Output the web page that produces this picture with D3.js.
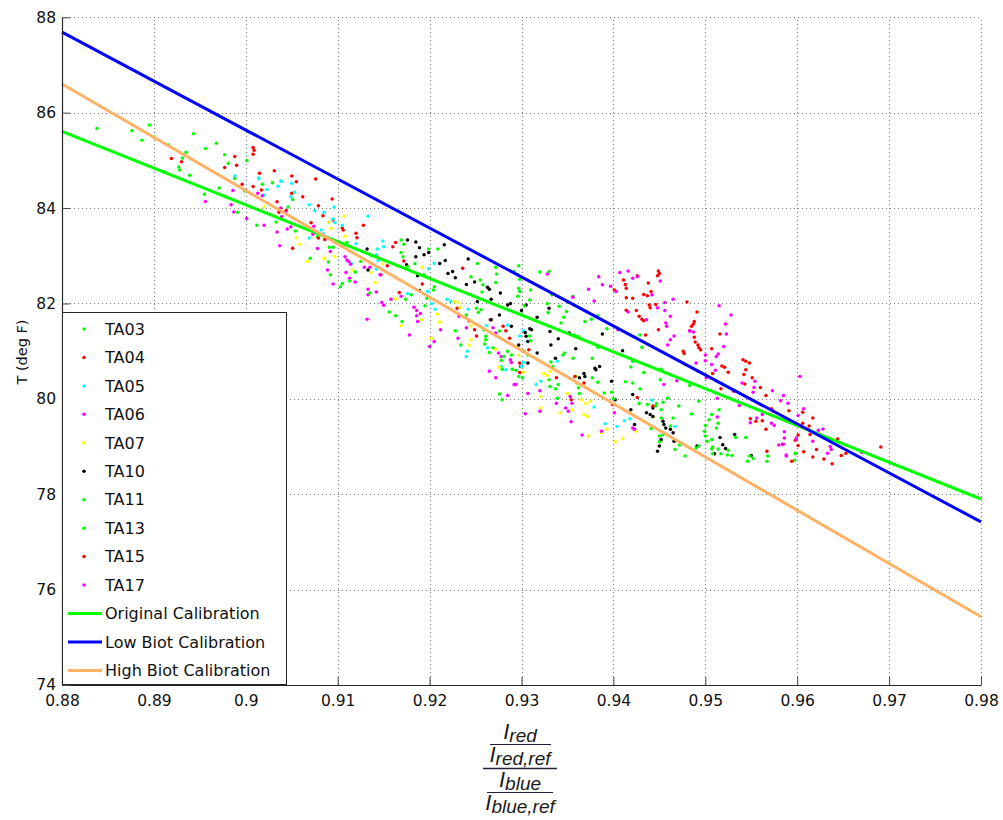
<!DOCTYPE html>
<html>
<head>
<meta charset="utf-8">
<script src="https://cdn.jsdelivr.net/npm/d3@7"></script>
<style>
html,body{margin:0;padding:0;background:#fff;}
svg{display:block;}
</style>
</head>
<body>
<svg id="chart" width="1003" height="820"></svg>
<script>
// ---------- DATA ----------
const xTicks = [0.88,0.89,0.9,0.91,0.92,0.93,0.94,0.95,0.96,0.97,0.98];
const xTickLabels = ["0.88","0.89","0.9","0.91","0.92","0.93","0.94","0.95","0.96","0.97","0.98"];
const yTicks = [74,76,78,80,82,84,86,88];
const yTickLabels = ["74","76","78","80","82","84","86","88"];

const seriesNames = ["TA03","TA04","TA05","TA06","TA07","TA10","TA11","TA13","TA15","TA17"];
const seriesColors = ["#00ff00","#ff0000","#00ffff","#ff00ff","#ffff00","#000000","#00ff00","#00ff00","#ff0000","#ff00ff"];

const TA03 = [[0.8838,85.67],[0.8876,85.62],[0.8895,85.74],[0.8887,85.42],[0.8900,85.49],[0.8916,85.32],[0.8943,85.56],[0.8935,85.17],[0.8931,85.05],[0.8927,84.86],[0.8928,84.80],[0.8939,84.69],[0.8956,85.25],[0.8968,85.36],[0.8977,85.12],[0.8981,84.94],[0.8988,84.62],[0.9001,85.00],[0.8971,84.42],[0.8977,84.25],[0.8955,84.29],[0.8911,84.76],[0.8991,83.91],[0.9012,83.64],[0.8999,84.36],[0.9029,84.53],[0.9018,84.50],[0.9051,84.18],[0.9046,84.02],[0.9033,83.71],[0.9054,83.52],[0.9078,83.40],[0.9070,82.95],[0.9091,83.18],[0.9095,83.18],[0.9090,82.87],[0.9092,82.60]];
const TA04 = [[0.8919,85.04],[0.8930,84.97],[0.8988,85.08],[0.8990,84.90],[0.8977,84.85],[0.9008,85.27],[0.9009,85.21],[0.9008,85.13],[0.8996,84.50],[0.9008,84.45],[0.9031,84.78],[0.9015,84.73],[0.9050,84.67],[0.9055,84.55],[0.9076,84.61],[0.9050,84.31],[0.9062,84.24],[0.9094,84.19],[0.9034,84.13],[0.9036,83.91],[0.9044,83.95],[0.9079,84.05],[0.9084,83.84],[0.9071,83.69],[0.9079,83.37],[0.9086,83.34],[0.9051,83.16],[0.9017,84.38],[0.9095,83.75],[0.9128,83.64],[0.9105,83.58],[0.9106,83.54],[0.9120,83.47],[0.9121,83.38],[0.9143,82.98],[0.9147,82.60],[0.9154,82.79],[0.9167,82.23],[0.9163,83.28],[0.9160,83.19],[0.9172,82.89],[0.9192,82.41],[0.9236,82.74],[0.9230,81.90],[0.9243,81.64],[0.9249,81.45],[0.9251,81.32],[0.9266,81.66],[0.9280,81.52],[0.9283,81.43],[0.9287,81.27],[0.9298,80.75],[0.9299,80.68],[0.9298,80.55]];
const TA05 = [[0.8988,84.68],[0.9014,84.63],[0.9039,84.56],[0.9050,84.52],[0.9014,84.62],[0.9053,84.33],[0.9049,84.24],[0.9069,84.07],[0.9075,83.95],[0.9085,83.91],[0.9096,84.02],[0.9082,83.54],[0.9084,83.46],[0.9095,83.77],[0.9097,83.70],[0.9105,83.64],[0.9133,83.83],[0.9120,83.25],[0.9115,82.84],[0.9142,83.02],[0.9143,83.14],[0.9149,83.31],[0.9150,83.19],[0.9144,82.90],[0.9142,82.72],[0.9176,82.21],[0.9198,82.25],[0.9202,82.00],[0.9206,81.88],[0.9199,82.73],[0.9205,82.84],[0.9069,83.37],[0.9038,84.57],[0.9035,84.46],[0.9023,84.39],[0.9020,84.27],[0.9219,82.09],[0.9223,82.04],[0.9242,81.88],[0.9262,81.54],[0.9285,81.55],[0.9263,81.07],[0.9241,81.00],[0.9240,80.89],[0.9298,81.32],[0.9302,81.43],[0.9306,81.21],[0.9278,80.68],[0.9283,80.61],[0.9300,80.68],[0.9302,80.76],[0.9316,80.30],[0.9321,80.37],[0.9339,80.79],[0.9379,79.83],[0.9391,79.48],[0.9404,79.42],[0.9442,79.97],[0.9467,79.42],[0.9412,79.54],[0.9418,79.58]];
const TA06 = [[0.8956,84.14],[0.8986,84.37],[0.8984,84.07],[0.8987,83.92],[0.9001,83.78],[0.9013,84.31],[0.9018,84.26],[0.9038,84.00],[0.9043,83.91],[0.9039,83.82],[0.9020,83.64],[0.9034,83.50],[0.9045,83.56],[0.9049,83.61],[0.9073,83.45],[0.9037,83.21],[0.9092,83.09],[0.9074,83.62],[0.9108,82.98],[0.9110,82.91],[0.9112,82.88],[0.9114,82.82],[0.9109,82.65],[0.9113,82.53],[0.9119,82.45],[0.9095,82.41],[0.9129,82.76],[0.9135,82.76],[0.9146,82.60],[0.9133,82.30],[0.9133,82.18],[0.9142,82.24],[0.9132,81.67],[0.9148,82.02],[0.9150,81.96],[0.9158,82.09],[0.9169,82.15],[0.9178,81.34],[0.9183,81.92],[0.9186,81.85],[0.9186,81.74],[0.9190,81.79],[0.9187,81.62],[0.9205,81.20],[0.9200,81.10],[0.9212,81.45],[0.9089,82.70],[0.9078,83.15],[0.9232,81.73],[0.9240,81.49],[0.9231,81.27],[0.9269,81.49],[0.9272,81.38],[0.9275,80.96],[0.9278,80.89],[0.9288,80.82],[0.9289,80.76],[0.9265,80.58],[0.9272,80.44],[0.9292,80.30],[0.9294,80.30],[0.9285,80.07]];
const TA07 = [[0.9020,84.03],[0.9055,83.38],[0.9059,83.24],[0.9090,83.71],[0.9093,83.57],[0.9085,82.95],[0.9107,83.83],[0.9108,83.41],[0.9104,83.21],[0.9116,82.70],[0.9136,82.65],[0.9141,82.44],[0.9149,82.83],[0.9163,82.10],[0.9169,81.53],[0.9191,81.66],[0.9208,81.78],[0.9202,81.27],[0.9211,81.61],[0.9192,82.76],[0.9067,82.88],[0.9086,82.94],[0.9097,82.98],[0.9227,82.04],[0.9231,82.02],[0.9233,81.92],[0.9245,81.53],[0.9245,81.24],[0.9243,81.13],[0.9272,81.04],[0.9276,80.66],[0.9297,80.92],[0.9302,80.56],[0.9324,80.53],[0.9328,80.49],[0.9331,80.58],[0.9321,80.05],[0.9350,80.11],[0.9375,79.95],[0.9365,79.98],[0.9370,79.90],[0.9355,79.77],[0.9342,79.71],[0.9321,79.81],[0.9368,79.67],[0.9372,79.63],[0.9373,79.22],[0.9393,79.36],[0.9387,79.29],[0.9402,79.10],[0.9443,79.62],[0.9425,79.32],[0.9410,79.17]];
const TA10 = [[0.9132,83.14],[0.9133,82.70],[0.9175,82.81],[0.9187,82.58],[0.9189,82.27],[0.9185,83.29],[0.9189,83.17],[0.9185,82.98],[0.9194,83.02],[0.9199,83.07],[0.9211,82.84],[0.9176,83.33],[0.9228,82.54],[0.9263,82.34],[0.9285,81.97],[0.9305,81.97],[0.9267,81.66],[0.9276,81.76],[0.9309,81.47],[0.9311,81.45],[0.9305,81.31],[0.9307,81.20],[0.9304,81.39],[0.9317,80.96],[0.9307,80.75],[0.9331,81.41],[0.9267,82.09],[0.9252,82.04],[0.9216,83.23],[0.9217,82.90],[0.9220,82.63],[0.9225,82.67],[0.9242,82.93],[0.9249,82.45],[0.9240,82.40],[0.9265,82.30],[0.9277,82.22],[0.9288,82.00],[0.9300,81.85],[0.9317,81.71],[0.9330,81.90],[0.9340,81.26],[0.9359,81.05],[0.9332,81.13],[0.9337,80.85],[0.9385,80.68],[0.9380,80.64],[0.9381,80.61],[0.9363,80.44],[0.9368,80.53],[0.9369,80.47],[0.9398,80.37],[0.9402,79.98],[0.9388,81.36],[0.9297,81.13],[0.9289,81.52],[0.9352,81.38],[0.9410,81.01],[0.9421,80.09],[0.9440,79.67],[0.9443,79.63],[0.9443,79.81],[0.9436,79.71],[0.9419,79.77],[0.9454,79.53],[0.9455,79.46],[0.9457,79.39],[0.9462,79.36],[0.9465,79.29],[0.9466,79.11],[0.9452,79.15],[0.9450,79.01],[0.9448,78.90],[0.9491,79.01],[0.9516,79.19],[0.9519,79.04],[0.9522,78.96],[0.9510,78.85],[0.9532,79.25],[0.9550,78.81],[0.9423,79.46]];
const TA11 = [[0.9110,83.28],[0.9125,82.88],[0.9119,82.66],[0.9113,82.47],[0.9105,82.42],[0.9103,82.35],[0.9137,83.00],[0.9135,82.22],[0.9156,81.82],[0.9163,81.74],[0.9174,82.09],[0.9180,82.18],[0.9170,81.62],[0.9195,81.95],[0.9197,82.11],[0.9169,83.33],[0.9172,83.24],[0.9169,83.07],[0.9171,82.98],[0.9176,82.77],[0.9184,82.83],[0.9199,83.14],[0.9194,82.60],[0.9205,82.35],[0.9204,82.28],[0.9209,83.14],[0.9330,82.67],[0.9252,82.84],[0.9245,82.56],[0.9255,82.49],[0.9258,82.39],[0.9257,82.24],[0.9272,82.76],[0.9273,82.62],[0.9272,82.44],[0.9297,82.79],[0.9296,82.60],[0.9297,82.32],[0.9298,82.25],[0.9292,82.67],[0.9320,82.66],[0.9310,82.28],[0.9309,82.07],[0.9303,81.95],[0.9328,82.00],[0.9341,81.94],[0.9351,82.02],[0.9349,81.83],[0.9346,81.71],[0.9343,81.59],[0.9356,82.15],[0.9357,81.34],[0.9361,81.31],[0.9364,81.27],[0.9347,80.96],[0.9345,80.92],[0.9356,80.85],[0.9377,80.85],[0.9369,81.62],[0.9376,81.67],[0.9383,81.74],[0.9379,81.15],[0.9383,81.08],[0.9393,81.47],[0.9377,80.44],[0.9383,80.35],[0.9390,80.12],[0.9398,80.14],[0.9251,81.90],[0.9256,81.87],[0.9253,81.81],[0.9240,81.76],[0.9228,81.43],[0.9234,81.13],[0.9259,81.45],[0.9261,81.31],[0.9261,81.24],[0.9260,81.15],[0.9276,81.42],[0.9269,81.07],[0.9265,80.97],[0.9285,81.00],[0.9289,80.92],[0.9309,81.32],[0.9310,81.22],[0.9303,81.00],[0.9307,80.92],[0.9278,80.81],[0.9281,80.89],[0.9279,80.62],[0.9290,80.62],[0.9294,80.60],[0.9297,80.47],[0.9301,80.44],[0.9276,80.10],[0.9279,79.98],[0.9332,80.77],[0.9334,80.68],[0.9330,80.40],[0.9331,80.26],[0.9340,80.30],[0.9337,80.21],[0.9339,80.01],[0.9359,80.47],[0.9360,80.33],[0.9362,80.23],[0.9363,80.11],[0.9298,82.51],[0.9296,82.15],[0.9329,81.81],[0.9333,82.18]];
const TA13 = [[0.9400,80.00],[0.9429,81.34],[0.9431,81.08],[0.9421,80.79],[0.9419,80.67],[0.9452,80.62],[0.9451,80.40],[0.9478,80.72],[0.9433,80.55],[0.9413,80.36],[0.9421,80.33],[0.9429,80.21],[0.9483,80.28],[0.9493,79.95],[0.9459,80.01],[0.9454,79.93],[0.9447,79.90],[0.9471,79.85],[0.9428,79.90],[0.9437,79.88],[0.9446,79.85],[0.9452,79.77],[0.9485,79.68],[0.9452,79.60],[0.9465,79.60],[0.9462,79.43],[0.9441,79.38],[0.9450,79.22],[0.9450,79.10],[0.9454,79.25],[0.9467,78.94],[0.9478,78.80],[0.9472,79.03],[0.9490,78.97],[0.9493,79.01],[0.9507,79.67],[0.9504,79.56],[0.9500,79.44],[0.9515,79.77],[0.9499,79.32],[0.9500,79.22],[0.9502,79.11],[0.9507,79.15],[0.9508,78.99],[0.9507,78.95],[0.9508,78.85],[0.9514,78.95],[0.9517,78.85],[0.9525,78.92],[0.9524,78.82],[0.9529,78.81],[0.9546,78.69],[0.9548,78.80],[0.9552,78.75],[0.9533,79.19],[0.9544,79.19],[0.9512,79.39],[0.9514,79.49],[0.9568,78.80],[0.9567,78.69],[0.9598,78.85],[0.9597,78.71],[0.9598,78.86]];
const TA15 = [[0.9308,81.03],[0.9338,80.44],[0.9354,79.98],[0.9358,80.47],[0.9368,80.33],[0.9401,82.28],[0.9399,79.88],[0.9449,82.68],[0.9450,82.63],[0.9448,82.58],[0.9426,82.58],[0.9411,82.49],[0.9413,82.40],[0.9414,82.32],[0.9438,82.43],[0.9441,82.25],[0.9433,82.19],[0.9437,82.16],[0.9414,82.12],[0.9421,82.11],[0.9480,82.03],[0.9439,81.97],[0.9440,81.91],[0.9446,81.98],[0.9414,81.86],[0.9425,81.85],[0.9428,81.73],[0.9431,81.67],[0.9433,81.64],[0.9491,81.82],[0.9449,81.45],[0.9435,81.34],[0.9485,81.52],[0.9487,81.57],[0.9488,81.62],[0.9483,81.43],[0.9488,81.29],[0.9489,81.19],[0.9492,81.13],[0.9493,81.07],[0.9495,81.03],[0.9476,81.00],[0.9477,80.95],[0.9516,81.36],[0.9507,81.05],[0.9518,80.69],[0.9521,80.66],[0.9525,80.56],[0.9508,80.53],[0.9541,80.82],[0.9544,80.79],[0.9548,80.75],[0.9544,80.61],[0.9542,80.51],[0.9517,80.21],[0.9531,80.16],[0.9543,80.31],[0.9551,80.44],[0.9560,80.24],[0.9566,80.07],[0.9572,79.79],[0.9574,79.74],[0.9591,79.75],[0.9549,79.58],[0.9555,79.53],[0.9562,79.54],[0.9566,79.36],[0.9601,79.24],[0.9567,78.90],[0.9584,79.05],[0.9594,78.69],[0.9426,80.03],[0.9443,79.85],[0.9606,79.72],[0.9606,79.49],[0.9617,79.60],[0.9604,79.42],[0.9613,79.43],[0.9614,79.25],[0.9644,79.16],[0.9598,79.13],[0.9601,79.02],[0.9621,78.94],[0.9607,78.89],[0.9617,78.78],[0.9629,78.74],[0.9638,78.64],[0.9648,78.81],[0.9653,78.86],[0.9691,78.99]];
const TA17 = [[0.9328,82.62],[0.9373,82.30],[0.9388,82.39],[0.9384,82.56],[0.9397,82.36],[0.9379,82.05],[0.9403,82.25],[0.9407,82.65],[0.9405,81.45],[0.9401,79.71],[0.9307,80.11],[0.9320,80.17],[0.9338,79.91],[0.9353,80.05],[0.9355,79.91],[0.9348,79.81],[0.9351,79.74],[0.9320,79.74],[0.9304,79.69],[0.9354,79.52],[0.9366,79.24],[0.9387,79.32],[0.9356,82.13],[0.9416,82.68],[0.9421,82.53],[0.9426,82.56],[0.9451,82.47],[0.9442,82.18],[0.9465,82.09],[0.9416,81.82],[0.9448,81.91],[0.9456,82.02],[0.9456,81.85],[0.9462,81.73],[0.9436,81.66],[0.9457,81.59],[0.9458,81.52],[0.9466,81.32],[0.9462,81.24],[0.9459,81.13],[0.9483,81.42],[0.9487,81.40],[0.9515,81.95],[0.9528,81.76],[0.9522,81.57],[0.9523,81.36],[0.9520,81.10],[0.9514,80.94],[0.9512,80.89],[0.9500,80.92],[0.9500,80.80],[0.9490,80.75],[0.9492,80.58],[0.9507,80.72],[0.9511,80.60],[0.9501,80.44],[0.9513,80.01],[0.9469,80.38],[0.9455,80.30],[0.9540,80.33],[0.9554,80.37],[0.9553,80.24],[0.9537,79.86],[0.9552,80.14],[0.9573,80.17],[0.9585,80.07],[0.9590,79.91],[0.9582,79.96],[0.9562,79.67],[0.9556,79.60],[0.9572,79.49],[0.9575,79.44],[0.9549,79.50],[0.9586,79.31],[0.9586,79.18],[0.9580,79.03],[0.9585,79.05],[0.9588,78.80],[0.9513,79.62],[0.9603,80.47],[0.9599,79.18],[0.9421,79.39],[0.9423,79.36],[0.9607,79.79],[0.9601,79.65],[0.9623,79.34],[0.9628,79.37],[0.9599,79.15],[0.9617,79.11],[0.9636,79.00],[0.9637,78.94],[0.9633,78.86],[0.9588,78.82],[0.9670,78.88]];

const seriesData = [TA03,TA04,TA05,TA06,TA07,TA10,TA11,TA13,TA15,TA17];

// calibration lines: [x, T] endpoints
const calNames = ["Original Calibration","Low Biot Calibration","High Biot Calibration"];
const calColors = ["#00ff00","#0000ff","#ffb266"];
const calOriginal = [[0.88,85.61],[0.98,77.90]];
const calLowBiot  = [[0.88,87.69],[0.98,77.42]];
const calHighBiot = [[0.88,86.60],[0.98,75.43]];
const calData = [calOriginal, calLowBiot, calHighBiot];

// ---------- CHART ----------
const svg = d3.select("#chart");
const L = 62, R = 981, T = 17.3, B = 685;
const x = d3.scaleLinear().domain([0.88,0.98]).range([L,R]);
const y = d3.scaleLinear().domain([74,88]).range([B,T]);
const tickFont = "'DejaVu Sans', Verdana, sans-serif";

svg.append("rect").attr("width",1003).attr("height",820).attr("fill","#fff");

// grid
const grid = svg.append("g").attr("stroke","#7a7a7a").attr("stroke-width",1).attr("stroke-dasharray","1,3");
xTicks.slice(1).forEach(v=>{
  const px = Math.round(x(v))+0.5;
  grid.append("line").attr("x1",px).attr("x2",px).attr("y1",B).attr("y2",T);
});
yTicks.slice(1).forEach(v=>{
  const py = Math.round(y(v))+0.5;
  grid.append("line").attr("x1",L).attr("x2",R).attr("y1",py).attr("y2",py);
});

// scatter points
const pts = svg.append("g");
seriesData.forEach((data,i)=>{
  pts.append("g").selectAll("circle").data(data).join("circle")
    .attr("cx",d=>x(d[0])).attr("cy",d=>y(d[1])).attr("r",1.75)
    .attr("fill",seriesColors[i]);
});

// calibration lines
const lineGen = d3.line().x(d=>x(d[0])).y(d=>y(d[1]));
calData.forEach((data,i)=>{
  svg.append("path").attr("d",lineGen(data)).attr("fill","none")
    .attr("stroke",calColors[i]).attr("stroke-width",3);
});

// axes
const xAxis = d3.axisBottom(x).tickValues(xTicks).tickFormat((d,i)=>xTickLabels[i])
  .tickSizeInner(-8).tickSizeOuter(0).tickPadding(10);
const yAxis = d3.axisLeft(y).tickValues(yTicks).tickFormat((d,i)=>yTickLabels[i])
  .tickSizeInner(-8).tickSizeOuter(0).tickPadding(6);

const gx = svg.append("g").attr("transform",`translate(0,${B})`).call(xAxis);
const gy = svg.append("g").attr("transform",`translate(${L},0)`).call(yAxis);
[gx,gy].forEach(g=>{
  g.select(".domain").attr("stroke","#262626").attr("stroke-width",1.2);
  g.selectAll(".tick line").attr("stroke","#444");
  g.selectAll(".tick text").attr("fill","#111").style("font-family",tickFont).style("font-size","15.5px");
});

// y label
svg.append("text").attr("transform","translate(27,352) rotate(-90)")
  .attr("text-anchor","middle").attr("fill","#111")
  .style("font-family",tickFont).style("font-size","14.5px").text("T (deg F)");

// x label: stacked fraction
const fracFont = "'Liberation Sans', Arial, sans-serif";
const cx = 520;
const fracLines = [
  {sub:"red", base:739},
  {sub:"red,ref", base:762},
  {sub:"blue", base:787},
  {sub:"blue,ref", base:810}
];
fracLines.forEach(f=>{
  const t = svg.append("text").attr("x",cx).attr("y",f.base).attr("text-anchor","middle")
    .attr("fill","#1a1a1a").style("font-family",fracFont).style("font-style","italic");
  t.append("tspan").style("font-size","22px").text("I");
  t.append("tspan").attr("dy",3).style("font-size","19px").text(f.sub);
});
svg.append("line").attr("x1",490).attr("x2",551).attr("y1",744.5).attr("y2",744.5).attr("stroke","#20203a").attr("stroke-width",1.2);
svg.append("line").attr("x1",483).attr("x2",557).attr("y1",768.5).attr("y2",768.5).attr("stroke","#20203a").attr("stroke-width",1.5);
svg.append("line").attr("x1",487).attr("x2",553).attr("y1",792.5).attr("y2",792.5).attr("stroke","#20203a").attr("stroke-width",1.2);

// legend
const leg = svg.append("g");
leg.append("rect").attr("x",62.5).attr("y",312.5).attr("width",224).attr("height",372)
  .attr("fill","#fff").attr("stroke","#262626").attr("stroke-width",1);
const rowY = i => 329 + i*28.45;
seriesNames.forEach((n,i)=>{
  leg.append("circle").attr("cx",84).attr("cy",rowY(i)).attr("r",1.75).attr("fill",seriesColors[i]);
  leg.append("text").attr("x",105).attr("y",rowY(i)).attr("dy","0.36em").attr("fill","#111")
    .style("font-family",tickFont).style("font-size","16px").text(n);
});
calNames.forEach((n,j)=>{
  const i = seriesNames.length + j;
  leg.append("line").attr("x1",68).attr("x2",102).attr("y1",rowY(i)).attr("y2",rowY(i))
    .attr("stroke",calColors[j]).attr("stroke-width",3);
  leg.append("text").attr("x",105).attr("y",rowY(i)).attr("dy","0.36em").attr("fill","#111")
    .style("font-family",tickFont).style("font-size","16px").text(n);
});
</script>
</body>
</html>
